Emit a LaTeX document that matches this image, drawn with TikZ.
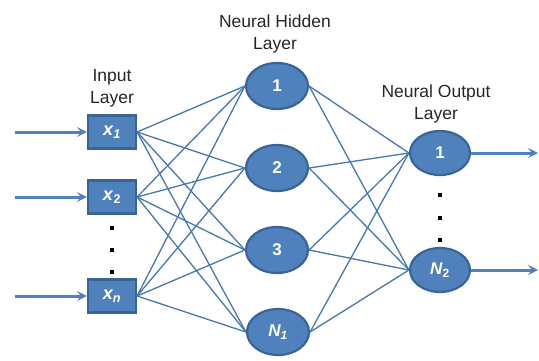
\documentclass[tikz,border=0pt]{standalone}
\usepackage{fontspec}
\setmainfont{Liberation Sans}
\usetikzlibrary{shapes.geometric,arrows.meta}
\definecolor{nnfill}{HTML}{4F81BD}
\definecolor{nnedge}{HTML}{3A6496}
\definecolor{nnline}{HTML}{4677AE}
\newcommand{\vsub}[1]{\textsubscript{#1}}
\begin{document}
\begin{tikzpicture}[x=1pt,y=-1pt,
  inbox/.style={draw=nnedge,line width=2.2pt,fill=nnfill,minimum width=48pt,minimum height=33pt,inner sep=0pt,text=white,font=\fontsize{18}{20}\selectfont\bfseries},
  neuron/.style={ellipse,draw=nnedge,line width=2.2pt,fill=nnfill,minimum width=62pt,minimum height=46pt,inner sep=0pt,text=white,font=\fontsize{17}{19}\selectfont\bfseries},
  oneuron/.style={neuron,minimum width=60pt,minimum height=44pt},
  conn/.style={draw=nnline,line width=1.3pt},
  io/.style={draw=nnfill,line width=3pt,-{Stealth[length=10pt,width=10pt,inset=4pt]}},
  lbl/.style={align=center,font=\fontsize{17.5}{22}\selectfont,text=black!85},
  dot/.style={fill=black,inner sep=0pt,minimum size=3.2pt}
]
\useasboundingbox (0,0) rectangle (539,360);
% labels
\node[lbl] (lin) at (112,88) {Input\\Layer};
\node[lbl] (lhid) at (275,34) {Neural Hidden\\Layer};
\node[lbl] (lout) at (436,104) {Neural Output\\Layer};
% nodes
\node[inbox] (x1) at (112,132) {\textit{x\vsub{1}}};
\node[inbox] (x2) at (112,197) {\textit{x}\vsub{2}};
\node[inbox] (xn) at (112,296) {\textit{x\vsub{n}}};
\node[neuron] (h1) at (277,86) {1};
\node[neuron] (h2) at (277,168) {2};
\node[neuron] (h3) at (277,250) {3};
\node[neuron] (h4) at (278,332) {\textit{N\vsub{1}}};
\node[oneuron] (o1) at (440,153) {1};
\node[oneuron] (o2) at (440,270) {\textit{N}\vsub{2}};
% connections
\foreach \i in {x1,x2,xn}{
  \foreach \h in {h1,h2,h3,h4}{
    \draw[conn] (\i.east) -- (\h.west);
  }
}
\foreach \h in {h1,h2,h3,h4}{
  \foreach \o in {o1,o2}{
    \draw[conn] (\h.east) -- (\o.west);
  }
}
% dots
\node[dot] (d1) at (112,228) {};
\node[dot] (d2) at (112,250) {};
\node[dot] (d3) at (112,272) {};
\node[dot] (d4) at (440,195) {};
\node[dot] (d5) at (440,218) {};
\node[dot] (d6) at (440,240) {};
% io arrows
\coordinate (a1) at (15,132);
\coordinate (a2) at (15,197);
\coordinate (a3) at (15,296);
\coordinate (b1) at (538,153);
\coordinate (b2) at (538,270);
\draw[io] (a1) -- (x1.west);
\draw[io] (a2) -- (x2.west);
\draw[io] (a3) -- (xn.west);
\draw[io] (o1.east) -- (b1);
\draw[io] (o2.east) -- (b2);
\end{tikzpicture}
\end{document}
